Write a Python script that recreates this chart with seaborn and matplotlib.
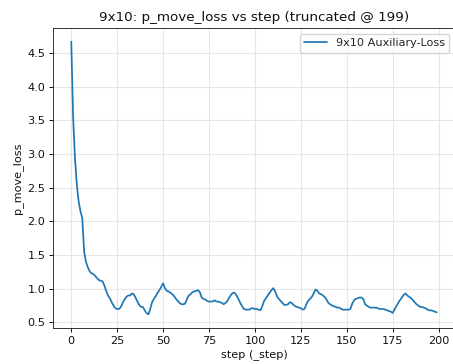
import matplotlib
matplotlib.use("Agg")
import matplotlib.pyplot as plt
import seaborn as sns
import pandas as pd

steps = list(range(200))
loss = [
    4.67, 3.55, 2.95, 2.55, 2.30, 2.15, 2.05, 1.55, 1.40, 1.32,
    1.26, 1.23, 1.22, 1.19, 1.16, 1.13, 1.12, 1.11, 1.05, 0.97,
    0.90, 0.86, 0.80, 0.75, 0.71, 0.70, 0.70, 0.73, 0.79, 0.84,
    0.88, 0.90, 0.90, 0.93, 0.92, 0.87, 0.81, 0.76, 0.73, 0.73,
    0.68, 0.64, 0.62, 0.70, 0.80, 0.85, 0.89, 0.94, 0.98, 1.03,
    1.08, 1.01, 0.97, 0.96, 0.94, 0.92, 0.89, 0.85, 0.82, 0.79,
    0.77, 0.77, 0.78, 0.85, 0.90, 0.92, 0.95, 0.96, 0.97, 0.98,
    0.95, 0.87, 0.85, 0.84, 0.82, 0.81, 0.81, 0.81, 0.83, 0.81,
    0.81, 0.80, 0.79, 0.77, 0.79, 0.82, 0.87, 0.91, 0.94, 0.94,
    0.90, 0.85, 0.79, 0.74, 0.70, 0.69, 0.69, 0.69, 0.71, 0.71,
    0.70, 0.70, 0.69, 0.68, 0.74, 0.82, 0.86, 0.90, 0.94, 0.98,
    1.01, 0.96, 0.89, 0.85, 0.82, 0.79, 0.76, 0.76, 0.77, 0.80,
    0.79, 0.76, 0.74, 0.73, 0.72, 0.71, 0.69, 0.70, 0.77, 0.82,
    0.85, 0.88, 0.93, 0.99, 0.97, 0.93, 0.92, 0.90, 0.88, 0.84,
    0.79, 0.77, 0.75, 0.74, 0.73, 0.72, 0.72, 0.70, 0.69, 0.69,
    0.69, 0.69, 0.70, 0.78, 0.83, 0.85, 0.86, 0.87, 0.87, 0.85,
    0.77, 0.75, 0.73, 0.72, 0.72, 0.72, 0.72, 0.71, 0.70, 0.70,
    0.70, 0.69, 0.68, 0.67, 0.66, 0.64, 0.69, 0.74, 0.79, 0.83,
    0.87, 0.91, 0.93, 0.90, 0.88, 0.86, 0.83, 0.80, 0.77, 0.75,
    0.73, 0.73, 0.72, 0.71, 0.69, 0.68, 0.68, 0.67, 0.66, 0.65,
]
series_name = "9x10 Auxiliary-Loss"
title = "9x10: p_move_loss vs step (truncated @ 199)"
xlabel = "step (_step)"
ylabel = "p_move_loss"
xticks = [0, 25, 50, 75, 100, 125, 150, 175, 200]
yticks = [0.5, 1.0, 1.5, 2.0, 2.5, 3.0, 3.5, 4.0, 4.5]

sns.set_style("ticks")
plt.rcParams['font.family'] = ['DejaVu Sans']
plt.rcParams['xtick.major.size'] = 2.8
plt.rcParams['ytick.major.size'] = 2.8
plt.rcParams['xtick.major.width'] = 0.7
plt.rcParams['ytick.major.width'] = 0.7

df = pd.DataFrame({"step": steps, "p_move_loss": loss, "run": series_name})

fig = plt.figure(figsize=(4.53, 3.64), dpi=100)
ax = fig.add_axes([53/453, 1-328/364, 402/453, (328-28)/364])
sns.lineplot(data=df, x="step", y="p_move_loss", hue="run", ax=ax,
             palette=["#1f77b4"], linewidth=1.25)
ax.grid(True, color="#e6e6e6", linewidth=0.8)
ax.set_axisbelow(True)
ax.set_xticks(xticks)
ax.set_yticks(yticks)
ax.tick_params(labelsize=8.1, colors="#111111", pad=2.8)
ax.set_title(title, fontsize=9.7, pad=5, color="#111111")
ax.set_xlabel(xlabel, fontsize=8.1, labelpad=2.5, color="#111111")
ax.set_ylabel(ylabel, fontsize=8.1, labelpad=3, color="#111111")
leg = ax.legend(loc="upper right", fontsize=8.1, title=None)
for s in ax.spines.values():
    s.set_color("#333333")
    s.set_linewidth(0.7)
fig.savefig("out.png", dpi=100)
